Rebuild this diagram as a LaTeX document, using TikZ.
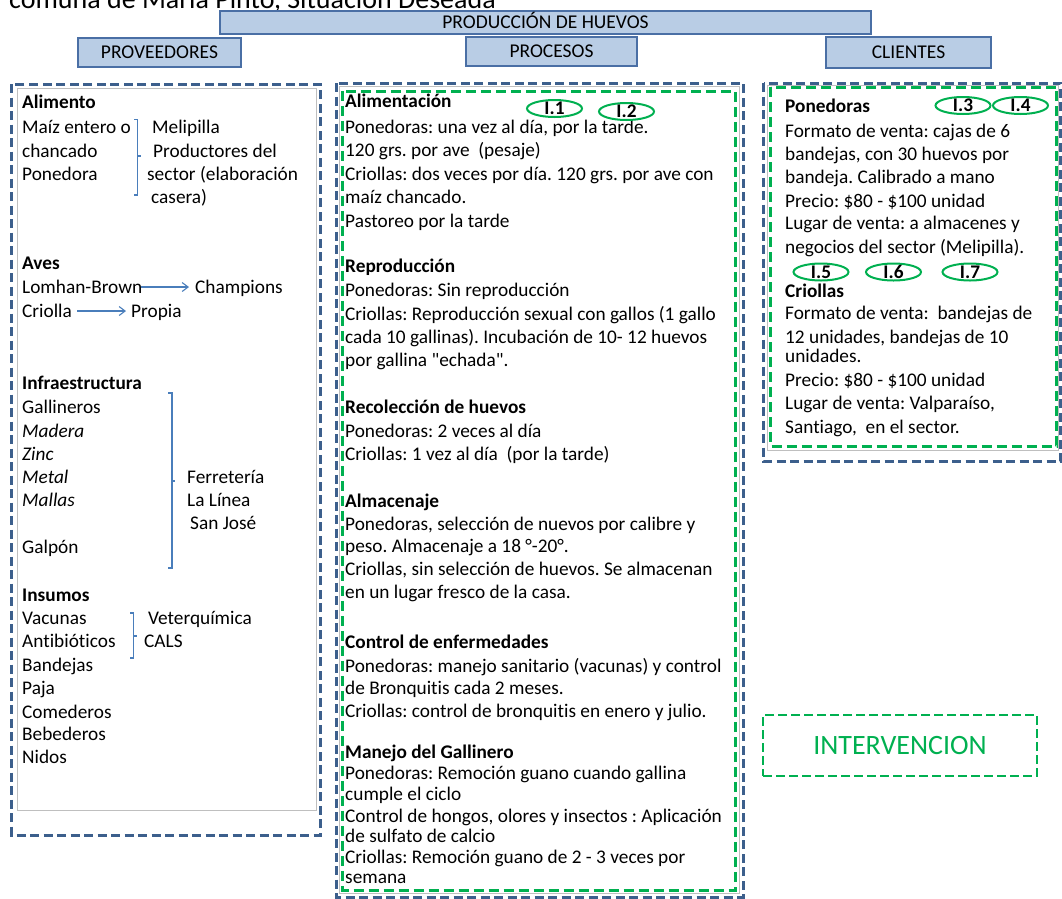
\documentclass[tikz,border=0pt]{standalone}
\usepackage{fontspec}
\setmainfont{Carlito}[Ligatures={TeXOff,CommonOff}]
\usetikzlibrary{shapes.geometric,arrows.meta}

\definecolor{hdrfill}{HTML}{B9CDE5}
\definecolor{hdrline}{HTML}{4A6FA5}
\definecolor{frameblue}{HTML}{3C5F8C}
\definecolor{markgreen}{HTML}{00B050}
\definecolor{linkblue}{HTML}{4A7EBB}
\definecolor{innergray}{HTML}{BFBFBF}

\newcommand{\bodyfont}{\fontsize{19.3}{23}\selectfont}
% one line of text, placed by its baseline
\newcommand{\txtline}[4]{\node[txt] (#1) at (#2,#3) {#4};}

\begin{document}
\frenchspacing
\begin{tikzpicture}[x=1pt,y=-1pt,
  txt/.style={anchor=base west, inner sep=0pt, font=\bodyfont},
  hdr/.style={draw=hdrline, fill=hdrfill, line width=1.1pt, inner sep=0pt,
    text height=12.5pt, text depth=0pt, font=\fontsize{19.5}{23}\selectfont},
  bluedash/.style={draw=frameblue, line width=3pt, dash pattern=on 9pt off 4.5pt},
  greendash/.style={draw=markgreen, line width=3pt, dash pattern=on 10pt off 5pt},
  graybox/.style={draw=innergray, line width=0.8pt},
  oval/.style={ellipse, draw=markgreen, line width=2pt, inner sep=0pt,
    minimum width=55pt, minimum height=17pt, text height=12pt, text depth=0pt,
    font=\bodyfont\bfseries},
  brace/.style={draw=linkblue, line width=1.1pt},
  linkarrow/.style={draw=linkblue, line width=1.1pt,
    -{Straight Barb[length=6pt,width=9pt]}}
]
\useasboundingbox (0,0) rectangle (1062,898);
\clip (0,0) rectangle (1062,898);

% heading running off the top edge
\node[anchor=base west, inner sep=0pt, font=\fontsize{28}{30}\selectfont]
  (title) at (9,8) {comuna de María Pinto, Situación Deseada};

% header bars
\node[hdr, minimum width=651pt, minimum height=23pt] (prod) at (545.5,22.5) {PRODUCCIÓN DE HUEVOS};
\node[hdr, minimum width=163pt, minimum height=29pt] (prov) at (159.5,52.5) {PROVEEDORES};
\node[hdr, minimum width=171pt, minimum height=29pt] (proc) at (551.5,51.5) {PROCESOS};
\node[hdr, minimum width=165pt, minimum height=31pt] (cli) at (908.5,52.5) {CLIENTES};

% column frames
\draw[bluedash] (11.5,84) rectangle (320,835);
\draw[graybox] (17,88) rectangle (316,810.5);

\draw[bluedash] (336,83) rectangle (743,897);
\draw[graybox] (339,86.5) rectangle (739.5,893.5);
\draw[greendash] (342.5,91) rectangle (735,890);

\draw[bluedash] (763.5,83) rectangle (1060.5,461.5);
\draw[graybox] (767,85.5) rectangle (1058,450);
\draw[greendash] (770.5,87) rectangle (1056.5,446);

% ---- PROVEEDORES ----
\txtline{a0}{22}{108}{\bfseries Alimento}
\txtline{a1}{22}{133}{Maíz entero o}
\txtline{a2}{22}{157}{chancado}
\txtline{a3}{22}{180}{Ponedora}
\txtline{a4}{152}{133}{Melipilla}
\txtline{a5}{153}{157}{Productores del}
\txtline{a6}{147}{180}{sector (elaboración}
\txtline{a7}{151}{203}{casera)}
\path[brace] (134,119.5) -- (137.5,119.5) -- (137.5,195) -- (134,195)
  (137.5,156) -- (141,156);

\txtline{b0}{22}{269}{\bfseries Aves}
\txtline{lb}{22}{293}{Lomhan-Brown}
\txtline{champ}{195}{293}{Champions}
\txtline{crio}{22}{317}{Criolla}
\txtline{prop}{131}{317}{Propia}
\draw[linkarrow] ([xshift=-1pt,yshift=6pt]lb.base east) -- ([xshift=-6pt,yshift=6pt]champ.base west);
\draw[linkarrow] ([xshift=5pt,yshift=6pt]crio.base east) -- ([xshift=-5pt,yshift=6pt]prop.base west);

\txtline{c0}{22}{389}{\bfseries Infraestructura}
\txtline{c1}{22}{413}{Gallineros}
\txtline{c2}{22}{437}{\itshape Madera}
\txtline{c3}{22}{460}{\itshape Zinc}
\txtline{c4}{22}{483}{\itshape Metal}
\txtline{c5}{22}{506}{\itshape Mallas}
\txtline{c6}{22}{553}{Galpón}
\txtline{c7}{187}{483}{Ferretería}
\txtline{c8}{187}{506}{La Línea}
\txtline{c9}{190}{529}{San José}
\path[brace] (168,393) -- (172,393) -- (172,568) -- (168,568)
  (172,481) -- (175,481);

\txtline{d0}{22}{601}{\bfseries Insumos}
\txtline{d1}{22}{624}{Vacunas}
\txtline{d2}{22}{647}{Antibióticos}
\txtline{d3}{22}{671}{Bandejas}
\txtline{d4}{22}{694}{Paja}
\txtline{d5}{22}{718}{Comederos}
\txtline{d6}{22}{740}{Bebederos}
\txtline{d7}{22}{763}{Nidos}
\txtline{d8}{148}{624}{Veterquímica}
\txtline{d9}{144}{647}{CALS}
\path[brace] (130,613) -- (133.5,613) -- (133.5,658) -- (130,658)
  (133.5,636) -- (137,636);

% ---- PROCESOS ----
\txtline{m1}{345}{107.5}{\bfseries Alimentación}
\txtline{m2}{345}{133}{Ponedoras: una vez al día, por la tarde.}
\txtline{m3}{345}{156}{120 grs. por ave\ \ (pesaje)}
\txtline{m4}{345}{180}{Criollas: dos veces por día. 120 grs. por ave con}
\txtline{m5}{345}{203}{maíz chancado.}
\txtline{m6}{345}{227}{Pastoreo por la tarde}
\txtline{m7}{345}{272}{\bfseries Reproducción}
\txtline{m8}{345}{296.5}{Ponedoras: Sin reproducción}
\txtline{m9}{345}{320}{Criollas: Reproducción sexual con gallos (1 gallo}
\txtline{m10}{345}{343}{cada 10 gallinas). Incubación de 10- 12 huevos}
\txtline{m11}{345}{366}{por gallina "echada".}
\txtline{m12}{345}{413}{\bfseries Recolección de huevos}
\txtline{m13}{345}{437}{Ponedoras: 2 veces al día}
\txtline{m14}{345}{460}{Criollas: 1 vez al día\ \ (por la tarde)}
\txtline{m15}{345}{507}{\bfseries Almacenaje}
\txtline{m16}{345}{530}{Ponedoras, selección de nuevos por calibre y}
\txtline{m17}{345}{552}{peso. Almacenaje a 18 °-20°.}
\txtline{m18}{345}{575}{Criollas, sin selección de huevos. Se almacenan}
\txtline{m19}{345}{598}{en un lugar fresco de la casa.}
\txtline{m20}{345}{648}{\bfseries Control de enfermedades}
\txtline{m21}{345}{672}{Ponedoras: manejo sanitario (vacunas) y control}
\txtline{m22}{345}{694}{de Bronquitis cada 2 meses.}
\txtline{m23}{345}{717}{Criollas: control de bronquitis en enero y julio.}
\txtline{m24}{345}{758}{\bfseries Manejo del Gallinero}
\txtline{m25}{345}{779}{Ponedoras: Remoción guano cuando gallina}
\txtline{m26}{345}{800}{cumple el ciclo}
\txtline{m27}{345}{822}{Control de hongos, olores y insectos : Aplicación}
\txtline{m28}{345}{842}{de sulfato de calcio}
\txtline{m29}{345}{863}{Criollas: Remoción guano de 2 - 3 veces por}
\txtline{m30}{345}{883}{semana}

\node[oval] (i1) at (554.5,108.5) {I.1};
\node[oval] (i2) at (626.5,111.5) {I.2};

% ---- CLIENTES ----
\txtline{r1}{785}{112}{\bfseries Ponedoras}
\txtline{r2}{785}{137}{Formato de venta: cajas de 6}
\txtline{r3}{785}{160}{bandejas, con 30 huevos por}
\txtline{r4}{785}{183}{bandeja. Calibrado a mano}
\txtline{r5}{785}{207}{Precio: \$80 - \$100 unidad}
\txtline{r6}{785}{229}{Lugar de venta: a almacenes y}
\txtline{r7}{785}{253}{negocios del sector (Melipilla).}
\txtline{r8}{785}{297}{\bfseries Criollas}
\txtline{r9}{785}{319}{Formato de venta:\ \ bandejas de}
\txtline{r10}{785}{343}{12 unidades, bandejas de 10}
\txtline{r11}{785}{362}{unidades.}
\txtline{r12}{785}{386}{Precio: \$80 - \$100 unidad}
\txtline{r13}{785}{409}{Lugar de venta: Valparaíso,}
\txtline{r14}{785}{433}{Santiago,\ \ en el sector.}

\node[oval] (i3) at (963,105.5) {I.3};
\node[oval] (i4) at (1020.5,105.5) {I.4};
\node[oval] (i5) at (821,272) {I.5};
\node[oval] (i6) at (893.5,272) {I.6};
\node[oval] (i7) at (970,272) {I.7};

% ---- INTERVENCION ----
\node[draw=markgreen, line width=2.5pt, dash pattern=on 9pt off 4pt,
  minimum width=274pt, minimum height=61pt, inner sep=0pt,
  text height=18pt, text depth=0pt, text=markgreen,
  font=\fontsize{28}{30}\selectfont] (interv) at (900,745.5) {INTERVENCION};
\end{tikzpicture}
\end{document}
